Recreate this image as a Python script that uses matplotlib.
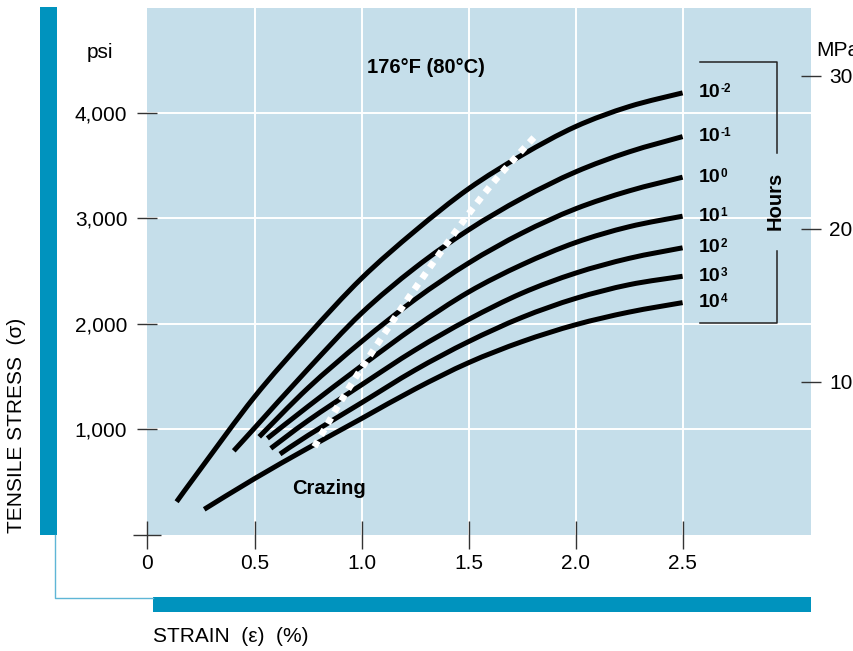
import numpy as np
import matplotlib.pyplot as plt
from matplotlib.patches import Rectangle, PathPatch
from matplotlib.lines import Line2D
from matplotlib.path import Path

plt.rcParams['font.family'] = ['Liberation Sans', 'DejaVu Sans']

# creep curves, strain (%) vs tensile stress (psi), one per time in hours
exponents = ['-2', '-1', '0', '1', '2', '3', '4']

strain_m2 = [0.136, 0.25, 0.5, 0.75, 1.0, 1.25, 1.5, 1.75, 2.0, 2.25, 2.5]
stress_m2 = [311, 628, 1306, 1890, 2430, 2880, 3280, 3600, 3870, 4060, 4190]

strain_m1 = [0.403, 0.5, 0.75, 1.0, 1.25, 1.5, 1.75, 2.0, 2.25, 2.5]
stress_m1 = [794, 1010, 1570, 2100, 2530, 2890, 3190, 3440, 3630, 3775]

strain_0 = [0.522, 0.75, 1.0, 1.25, 1.5, 1.75, 2.0, 2.25, 2.5]
stress_0 = [927, 1390, 1830, 2230, 2575, 2860, 3090, 3260, 3390]

strain_1 = [0.560, 0.75, 1.0, 1.25, 1.5, 1.75, 2.0, 2.25, 2.5]
stress_1 = [912, 1215, 1600, 1970, 2300, 2560, 2770, 2920, 3020]

strain_2 = [0.576, 0.75, 1.0, 1.25, 1.5, 1.75, 2.0, 2.25, 2.5]
stress_2 = [817, 1080, 1420, 1750, 2040, 2290, 2480, 2620, 2720]

strain_3 = [0.619, 0.75, 1.0, 1.25, 1.5, 1.75, 2.0, 2.25, 2.5]
stress_3 = [763, 940, 1250, 1560, 1830, 2060, 2240, 2370, 2450]

strain_4 = [0.265, 0.5, 0.75, 1.0, 1.25, 1.5, 1.75, 2.0, 2.25, 2.5]
stress_4 = [239, 530, 820, 1100, 1380, 1630, 1830, 1990, 2110, 2200]

# crazing limit (white dotted line)
craze_strain = [0.78, 0.935, 1.16, 1.382, 1.60, 1.826]
craze_stress = [832, 1370, 2068, 2713, 3302, 3812]

xticks = [0, 0.5, 1.0, 1.5, 2.0, 2.5]
xtick_labels = ['0', '0.5', '1.0', '1.5', '2.0', '2.5']
yticks = [1000, 2000, 3000, 4000]
ytick_labels = ['1,000', '2,000', '3,000', '4,000']
mpa_ticks = [10, 20, 30]
mpa_labels = ['10', '20', '30']
PSI_PER_MPA = 145.038

curves = [(strain_m2, stress_m2), (strain_m1, stress_m1), (strain_0, stress_0),
          (strain_1, stress_1), (strain_2, stress_2), (strain_3, stress_3),
          (strain_4, stress_4)]


def smooth_path(xs, ys):
    # bezier segments through the read points (catmull-rom style handles)
    p = np.column_stack([xs, ys]).astype(float)
    n = len(p)
    verts = [p[0]]
    codes = [Path.MOVETO]
    for i in range(n - 1):
        p0 = p[i - 1] if i > 0 else p[i]
        p3 = p[i + 2] if i + 2 < n else p[i + 1]
        c1 = p[i] + (p[i + 1] - p0) / 6
        c2 = p[i + 1] - (p3 - p[i]) / 6
        verts += [c1, c2, p[i + 1]]
        codes += [Path.CURVE4] * 3
    return Path(verts, codes)


W, H = 854, 651
fig = plt.figure(figsize=(W / 100, H / 100), dpi=100)


def fx(px):
    return px / W


def fy(py):
    return 1 - py / H


teal = '#0093be'
bg = '#c5deea'
tickc = '#333333'

ax = fig.add_axes([fx(147.5), fy(534.5), fx(811) - fx(147.5), fy(7.5) - fy(534.5)])
ax.set_facecolor(bg)
ax.set_xlim(0, 3.1)
ax.set_ylim(0, 5000)
for s in ax.spines.values():
    s.set_visible(False)

for v in yticks:
    ax.axhline(v, color='white', lw=1.4, zorder=1)
for v in xticks[1:]:
    ax.axvline(v, color='white', lw=1.4, zorder=1)

ax.set_xticks(xticks)
ax.set_xticklabels(xtick_labels)
ax.set_yticks(yticks)
ax.set_yticklabels(ytick_labels)
ax.set_yticks([0], minor=True)
ax.tick_params(axis='x', direction='inout', length=20, width=1, color=tickc,
               labelsize=15, pad=4)
ax.tick_params(axis='y', direction='inout', length=15, width=1, color=tickc,
               labelsize=15, pad=7)
ax.tick_params(axis='y', which='minor', direction='inout', length=20, width=1,
               color=tickc)

for (sx, sy), e in zip(curves, exponents):
    ax.add_patch(PathPatch(smooth_path(sx, sy), facecolor='none', edgecolor='black',
                           lw=3.6, capstyle='butt', joinstyle='round', zorder=3))
    ax.text(2.577, sy[-1], '10', fontsize=14, fontweight='bold',
            ha='left', va='center', zorder=5)
    ax.annotate(e, xy=(2.577, sy[-1]), xytext=(15.5, 2.5),
                textcoords='offset points', fontsize=8.5, fontweight='bold',
                ha='left', va='center', zorder=5)

craze = PathPatch(smooth_path(craze_strain, craze_stress), facecolor='none',
                  edgecolor='white', lw=4.8, linestyle=(0, (1.0, 1.0)),
                  capstyle='butt', zorder=4)
ax.add_patch(craze)

ax.text(1.30, 4431, '176\u00b0F (80\u00b0C)', fontsize=14.5, fontweight='bold',
        ha='center', va='center')
ax.text(0.848, 441, 'Crazing', fontsize=14.5, fontweight='bold',
        ha='center', va='center')

# hours bracket
bk = '#222222'
ax.plot([2.582, 2.941, 2.941], [4482, 4482, 3619], color=bk, lw=1.1)
ax.plot([2.941, 2.941, 2.582], [2690, 2002, 2002], color=bk, lw=1.1)
ax.text(2.932, 3161, 'Hours', rotation=90, fontsize=14.5, fontweight='bold',
        ha='center', va='center')

sec = ax.secondary_yaxis('right', functions=(lambda p: p / PSI_PER_MPA,
                                             lambda m: m * PSI_PER_MPA))
sec.set_yticks(mpa_ticks)
sec.set_yticklabels(mpa_labels)
sec.tick_params(direction='inout', length=14.4, width=1, color=tickc,
                labelsize=15, pad=6)
sec.spines['right'].set_visible(False)

# frame bars and labels outside the plot
fig.add_artist(Rectangle((fx(40), fy(535)), fx(57) - fx(40), fy(7) - fy(535),
                         transform=fig.transFigure, color=teal, lw=0))
fig.add_artist(Rectangle((fx(153), fy(612)), fx(811) - fx(153), fy(597) - fy(612),
                         transform=fig.transFigure, color=teal, lw=0))
fig.add_artist(Line2D([fx(55.5), fx(55.5), fx(153)], [fy(535), fy(597.5), fy(597.5)],
                      transform=fig.transFigure, color='#5fb6d6', lw=1))

fig.text(fx(17), fy(425), 'TENSILE STRESS  (\u03c3)', rotation=90,
         ha='center', va='center', fontsize=15)
fig.text(fx(153), fy(637), 'STRAIN  (\u03b5)  (%)', ha='left', va='center',
         fontsize=15)
fig.text(fx(87), fy(53), 'psi', ha='left', va='center', fontsize=15)
fig.text(fx(816), fy(50), 'MPa', ha='left', va='center', fontsize=15)

fig.savefig('out.png', dpi=100, facecolor='white')
